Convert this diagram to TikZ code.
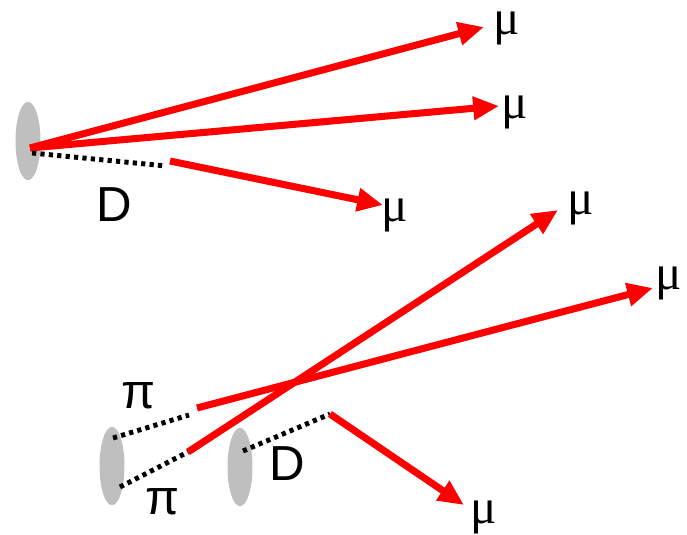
\documentclass[tikz,border=0pt]{standalone}
\usepackage{fontspec}
\setmainfont{Liberation Sans}
\newfontfamily\mufont{Liberation Serif}
\usetikzlibrary{arrows.meta,shapes.geometric}

\begin{document}
\begin{tikzpicture}[x=0.03cm, y=-0.03cm,
      vertex/.style={ellipse, fill=black!25, draw=none, minimum width=0.75cm, minimum height=2.35cm, inner sep=0pt},
      track/.style={draw=red, line width=6pt, -{Triangle[length=22pt, width=19pt]}},
      flight/.style={draw=black, line width=4.2pt, dash pattern=on 3.6pt off 3.6pt},
      lbl/.style={font=\fontsize{42}{48}\selectfont, inner sep=0pt},
      mulbl/.style={font=\fontsize{42}{48}\mufont, inner sep=0pt}
    ]
      \useasboundingbox (0,0) rectangle (687,535);

      % top: prompt vertex with D flight
      \node[vertex] (pv1) at (28,141) {};
      \coordinate (o1) at (30,148);
      \coordinate (d1) at (32,153);
      \coordinate (dk1) at (166,166);
      \coordinate (dd1) at (170,161);
      \coordinate (m1) at (484,27);
      \coordinate (m2) at (499,106);
      \coordinate (m3) at (383,205);

      \draw[track] (o1) -- (m1);
      \draw[track] (o1) -- (m2);
      \draw[flight] (d1) -- (dk1);
      \draw[track] (dd1) -- (m3);

      \node[mulbl] (mu1) at (507,28)  {μ};
      \node[mulbl] (mu2) at (515,112) {μ};
      \node[mulbl] (mu3) at (395,215) {μ};
      \node[lbl] (D1)  at (114,205) {D};

      % bottom: two pions and a D from separate vertices
      \node[vertex] (pv2) at (112,466) {};
      \node[vertex] (pv3) at (240,467) {};
      \coordinate (p1) at (113,438);
      \coordinate (pk1) at (189,415);
      \coordinate (pp1) at (197,408);
      \coordinate (p2) at (120,487);
      \coordinate (pk2) at (188,452);
      \coordinate (d2) at (243,451);
      \coordinate (dk2) at (330,414);
      \coordinate (m4) at (558,210);
      \coordinate (m5) at (653,288);
      \coordinate (m6) at (464,505);

      \draw[flight] (p1) -- (pk1);
      \draw[track] (pp1) -- (m5);
      \draw[flight] (p2) -- (pk2);
      \draw[track] (pk2) -- (m4);
      \draw[flight] (d2) -- (dk2);
      \draw[track] (dk2) -- (m6);

      \node[lbl] (pi1) at (138,396) {π};
      \node[lbl] (pi2) at (162,502) {π};
      \node[lbl] (D2)  at (287,464) {D};
      \node[mulbl] (mu4) at (581,208) {μ};
      \node[mulbl] (mu5) at (669,283) {μ};
      \node[mulbl] (mu6) at (484,517) {μ};
    \end{tikzpicture}
\end{document}
